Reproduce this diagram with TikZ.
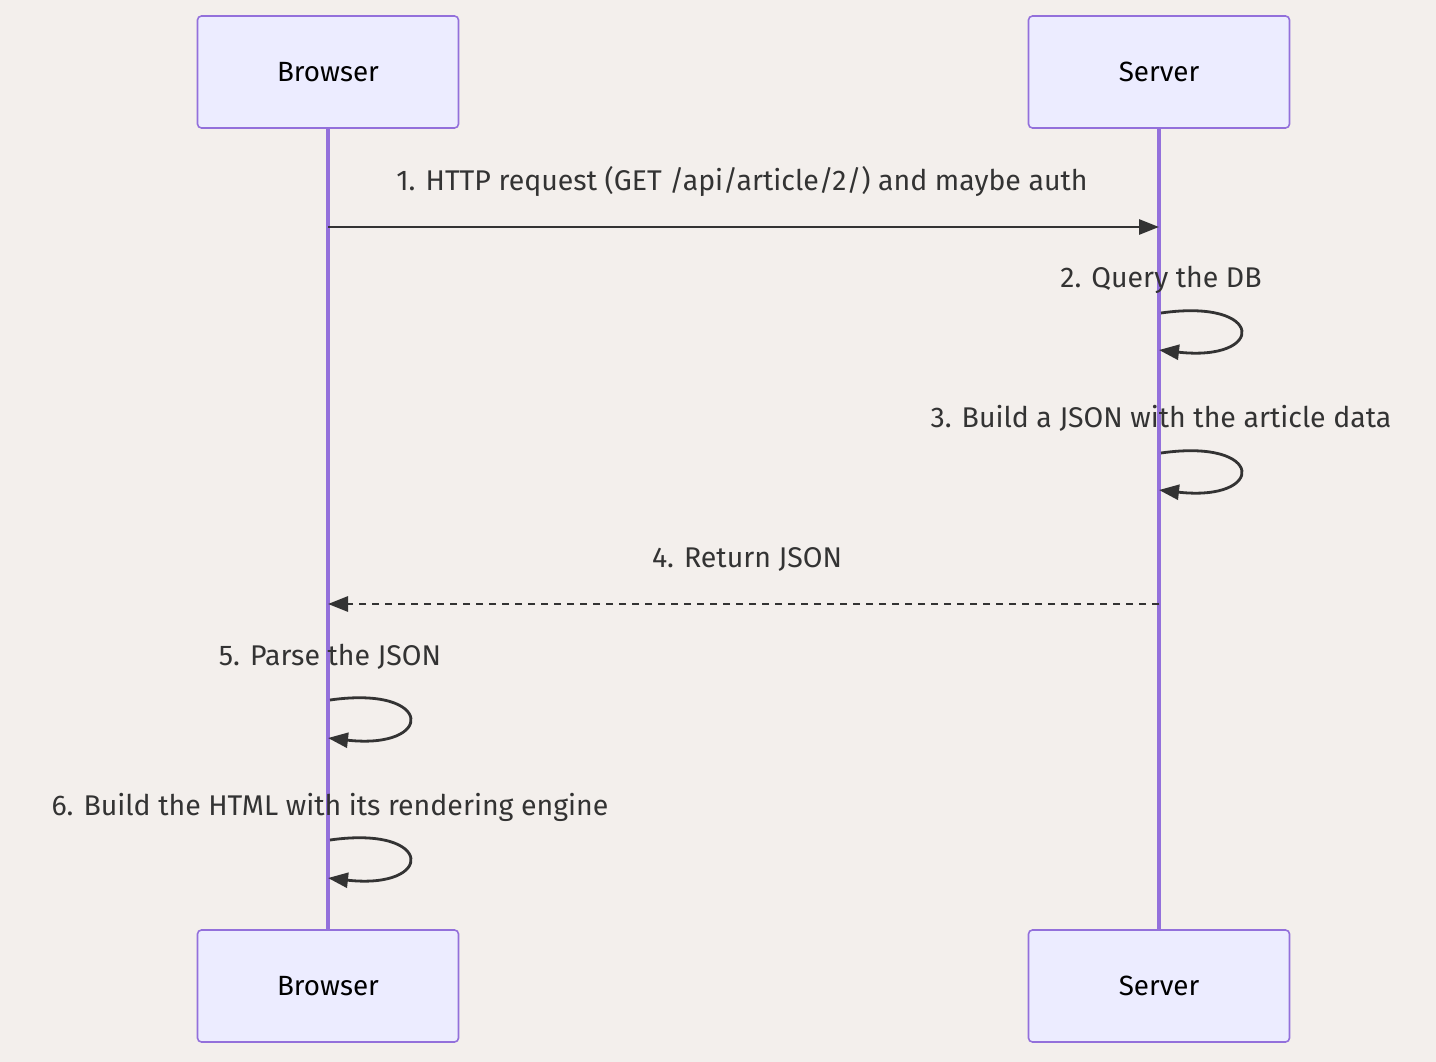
\documentclass[tikz,border=0pt]{standalone}
\usepackage{fontspec}
\setmainfont{Fira Sans}
\usetikzlibrary{arrows.meta}
\definecolor{bgc}{HTML}{F3EFEC}
\definecolor{actfill}{HTML}{ECECFF}
\definecolor{actline}{HTML}{9370DB}
\definecolor{msgc}{HTML}{333333}
\tikzset{
  actor/.style={draw=actline, fill=actfill, line width=1.6pt, rounded corners=4pt,
    minimum width=261pt, minimum height=112pt, inner sep=0pt,
    font=\fontsize{27.8}{32}\selectfont, text=black},
  lifeline/.style={draw=actline, line width=3.2pt},
  msg/.style={draw=msgc, line width=2.8pt, -{Triangle[length=20pt,width=15pt]}},
  reply/.style={msg, dash pattern=on 7pt off 6pt},
  lbl/.style={font=\fontsize{28.5}{32}\selectfont, text=msgc, inner sep=0pt, anchor=base},
}
\begin{document}
\begin{tikzpicture}[x=1pt,y=-1pt]
\fill[bgc] (0,0) rectangle (1436,1062);
\useasboundingbox (0,0) rectangle (1436,1062);
\node[actor] (bt) at (328,72) {Browser};
\node[actor] (st) at (1159,72) {Server};
\node[actor] (bb) at (328,986) {Browser};
\node[actor] (sb) at (1159,986) {Server};
\draw[lifeline] (bt.south) -- (bb.north);
\draw[lifeline] (st.south) -- (sb.north);
% message 1
\coordinate (m1a) at (328,227);
\coordinate (m1b) at (1159,227);
\draw[msg] (m1a) -- (m1b);
\node[lbl] (l1) at (742,191) {1. HTTP request (GET /api/article/2/) and maybe auth};
% message 2
\coordinate (m2a) at (1161,313);
\coordinate (m2b) at (1159,350);
\draw[msg] (m2a) .. controls (1266,298) and (1266,362) .. (m2b);
\node[lbl] (l2) at (1161,287) {2. Query the DB};
% message 3
\coordinate (m3a) at (1161,453);
\coordinate (m3b) at (1159,490);
\draw[msg] (m3a) .. controls (1266,438) and (1266,502) .. (m3b);
\node[lbl] (l3) at (1161,427) {3. Build a JSON with the article data};
% message 4
\coordinate (m4a) at (1159,604);
\coordinate (m4b) at (328,604);
\draw[reply] (m4a) -- (m4b);
\node[lbl] (l4) at (747,567) {4. Return JSON};
% message 5
\coordinate (m5a) at (330,700);
\coordinate (m5b) at (328,738);
\draw[msg] (m5a) .. controls (435,685) and (435,750) .. (m5b);
\node[lbl] (l5) at (330,665) {5. Parse the JSON};
% message 6
\coordinate (m6a) at (330,840);
\coordinate (m6b) at (328,878);
\draw[msg] (m6a) .. controls (435,825) and (435,890) .. (m6b);
\node[lbl] (l6) at (330,815) {6. Build the HTML with its rendering engine};
\end{tikzpicture}
\end{document}
